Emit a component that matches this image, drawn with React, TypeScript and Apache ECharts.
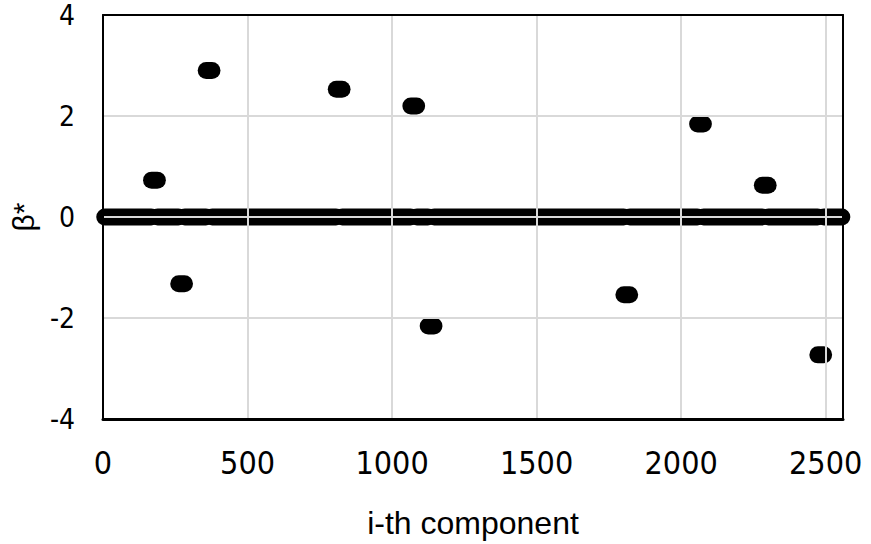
import React, { useEffect, useRef } from "react";
import * as echarts from "echarts";

// Axis ranges
const xMin = 0;
const xMax = 2560;
const xStep = 500;
const yMin = -4;
const yMax = 4;
const yStep = 2;

// Component indices shown (first and last)
const firstIndex = 6;
const lastIndex = 2556;

// Non-zero blocks of beta* (index ranges and value)
const blockStart = [168, 262, 357, 807, 1065, 1125, 1802, 2057, 2281, 2473];
const blockEnd = [188, 282, 377, 827, 1085, 1145, 1822, 2077, 2301, 2493];
const blockValue = [0.73, -1.32, 2.9, 2.53, 2.2, -2.16, -1.54, 1.84, 0.63, -2.73];

const xTitle = "i-th component";
const yTitle = "β*";

const NARROW = "'Liberation Sans Narrow', 'DejaVu Sans Condensed', 'Liberation Sans', sans-serif";
const REG = "'Liberation Sans', Arial, sans-serif";

export default function App() {
  const ref = useRef<HTMLDivElement>(null);

  useEffect(() => {
    if (!ref.current) return;
    const chart = echarts.init(ref.current, undefined, { renderer: "svg" });

    const zeroStart = [firstIndex, ...blockEnd.map((e) => e + 1)];
    const zeroEnd = [...blockStart.map((s) => s - 1), lastIndex];

    const seg = (s: number, e: number, v: number, name: string) => ({
      type: "line",
      name,
      data: [
        [s, v],
        [e, v],
      ],
      symbol: "none",
      clip: false,
      silent: true,
      lineStyle: { color: "#000", width: 17, cap: "round" },
      z: 3,
    });

    const series: any[] = [];
    zeroStart.forEach((s, i) => series.push(seg(s, zeroEnd[i], 0, "zero")));
    blockStart.forEach((s, i) => series.push(seg(s, blockEnd[i], blockValue[i], "beta")));

    const plain = (v: number) => String(v);

    const option: any = {
      animation: false,
      backgroundColor: "#fff",
      grid: { left: 103, right: 28, top: 15, bottom: 125, containLabel: false },
      xAxis: [
        {
          type: "value",
          min: xMin,
          max: xMax,
          interval: xStep,
          name: xTitle,
          nameLocation: "middle",
          nameGap: 88,
          nameTextStyle: { fontFamily: REG, fontSize: 32, color: "#000" },
          axisLine: { show: true, onZero: false, lineStyle: { color: "#000", width: 3 } },
          axisTick: { show: false },
          axisLabel: {
            show: true,
            margin: 28,
            fontFamily: NARROW,
            fontSize: 32,
            color: "#000",
            showMaxLabel: false,
            formatter: plain,
          },
          splitLine: { show: true, lineStyle: { color: "#d9d9d9", width: 2 } },
          z: 5,
        },
        {
          type: "value",
          position: "top",
          min: xMin,
          max: xMax,
          axisLine: { show: true, onZero: false, lineStyle: { color: "#000", width: 2 } },
          axisTick: { show: false },
          axisLabel: { show: false },
          splitLine: { show: false },
          z: 5,
        },
      ],
      yAxis: [
        {
          type: "value",
          min: yMin,
          max: yMax,
          interval: yStep,
          name: yTitle,
          nameLocation: "middle",
          nameRotate: 90,
          nameGap: 63,
          nameTextStyle: { fontFamily: REG, fontSize: 30, color: "#000" },
          axisLine: { show: true, onZero: false, lineStyle: { color: "#000", width: 2 } },
          axisTick: { show: false },
          axisLabel: {
            margin: 28,
            fontFamily: NARROW,
            fontSize: 28,
            lineHeight: 24,
            color: "#000",
            formatter: plain,
          },
          splitLine: { show: true, lineStyle: { color: "#d9d9d9", width: 2 } },
          z: 5,
        },
        {
          type: "value",
          position: "right",
          min: yMin,
          max: yMax,
          axisLine: { show: true, onZero: false, lineStyle: { color: "#000", width: 2 } },
          axisTick: { show: false },
          axisLabel: { show: false },
          splitLine: { show: false },
          z: 5,
        },
      ],
      series,
    };

    chart.setOption(option);
    return () => chart.dispose();
  }, []);

  return (
    <div
      ref={ref}
      style={{ position: "fixed", left: 0, top: 0, width: 871, height: 544 }}
    />
  );
}
